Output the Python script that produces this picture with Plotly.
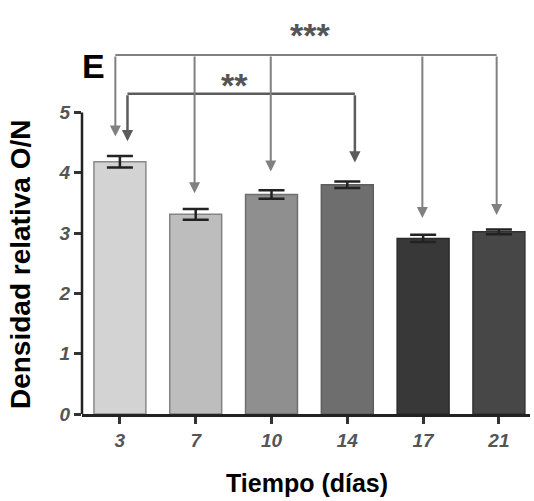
import plotly.graph_objects as go

days = ["3", "7", "10", "14", "17", "21"]
values = [4.18, 3.31, 3.64, 3.80, 2.91, 3.02]
errors = [0.095, 0.09, 0.07, 0.055, 0.06, 0.04]
bar_colors = ["#d3d3d3", "#bdbdbd", "#8f8f8f", "#6e6e6e", "#383838", "#474747"]
edge_colors = ["#8a8a8a", "#838383", "#6e6e6e", "#5e5e5e", "#2a2a2a", "#333333"]
y_ticks = [0, 1, 2, 3, 4, 5]

x_pos = list(range(len(days)))
LC3 = "#808080"
LC2 = "#5c5c5c"

fig = go.Figure()
fig.add_trace(go.Bar(
    x=x_pos, y=values, width=0.685,
    marker=dict(color=bar_colors, line=dict(color=edge_colors, width=1.5)),
    error_y=dict(type="data", array=errors, visible=True, color="#222222",
                 thickness=2.5, width=13),
    showlegend=False,
))

shapes = []
# y axis line from 0 to 5
shapes.append(dict(type="line", xref="paper", yref="y", x0=0, x1=0, y0=0, y1=5,
                   line=dict(color="#222222", width=2.5)))
# *** bracket horizontal
shapes.append(dict(type="line", xref="x", yref="y", x0=-0.06, x1=4.97, y0=5.95, y1=5.95,
                   line=dict(color=LC3, width=2)))
# ** bracket horizontal
shapes.append(dict(type="line", xref="x", yref="y", x0=0.10, x1=3.10, y0=5.31, y1=5.31,
                   line=dict(color=LC2, width=2.5)))

annotations = []
def arrow(x, ytail, ytip, color, w, size):
    annotations.append(dict(x=x, y=ytip, ax=x, ay=ytail, xref="x", yref="y",
                            axref="x", ayref="y", text="", showarrow=True,
                            arrowhead=2, arrowsize=size, arrowwidth=w,
                            arrowcolor=color, standoff=0))

arrow(-0.06, 5.95, 4.60, LC3, 2, 1.1)
arrow(0.985, 5.95, 3.66, LC3, 2, 1.1)
arrow(1.99, 5.95, 4.02, LC3, 2, 1.1)
arrow(3.99, 5.95, 3.25, LC3, 2, 1.1)
arrow(4.97, 5.95, 3.30, LC3, 2, 1.1)
arrow(0.10, 5.31, 4.52, LC2, 2.5, 0.9)
arrow(3.10, 5.31, 4.17, LC2, 2.5, 0.9)

annotations.append(dict(text="<b>***</b>", x=2.51, y=1.013, xref="x", yref="paper",
                        showarrow=False, yanchor="middle",
                        font=dict(size=34, color="#555555", family="Liberation Sans")))
annotations.append(dict(text="<b>**</b>", x=1.51, y=5.46, xref="x", yref="y",
                        showarrow=False, yanchor="middle",
                        font=dict(size=34, color="#555555", family="Liberation Sans")))
annotations.append(dict(text="<b>E</b>", x=0.026, y=0.93, xref="paper", yref="paper",
                        showarrow=False, xanchor="center", yanchor="middle",
                        font=dict(size=34, color="#000000", family="Liberation Sans")))
annotations.append(dict(text="<b>Tiempo (días)</b>", x=(306.7 - 81.5) / 448.5,
                        y=-(483 - 414) / 374, xref="paper",
                        yref="paper", showarrow=False, yanchor="middle",
                        font=dict(size=25, color="#000000", family="Liberation Sans")))
annotations.append(dict(text="<b>Densidad relativa O/N</b>", x=-0.137, y=0.40,
                        xref="paper", yref="paper", showarrow=False, textangle=-90,
                        xanchor="center", yanchor="middle",
                        font=dict(size=28, color="#000000", family="Liberation Sans")))

fig.update_layout(
    width=534, height=501,
    margin=dict(l=81.5, r=4, t=40, b=87),
    paper_bgcolor="white", plot_bgcolor="white",
    shapes=shapes, annotations=annotations,
    xaxis=dict(range=[-0.5, 5.41], tickvals=x_pos, ticktext=days,
               showline=True, linecolor="#222222", linewidth=3,
               ticks="outside", ticklen=7, tickwidth=2.5, tickcolor="#333333",
               showgrid=False, zeroline=False,
               tickfont=dict(size=19, color="#555555", family="Liberation Sans",
                             style="italic", weight="bold")),
    yaxis=dict(range=[0, 6.2], tickvals=y_ticks, showline=False,
               ticks="outside", ticklen=7, tickwidth=2.5, tickcolor="#333333",
               showgrid=False, zeroline=False,
               tickfont=dict(size=19, color="#555555", family="Liberation Sans",
                             style="italic", weight="bold")),
)

fig.write_html("out.html")
